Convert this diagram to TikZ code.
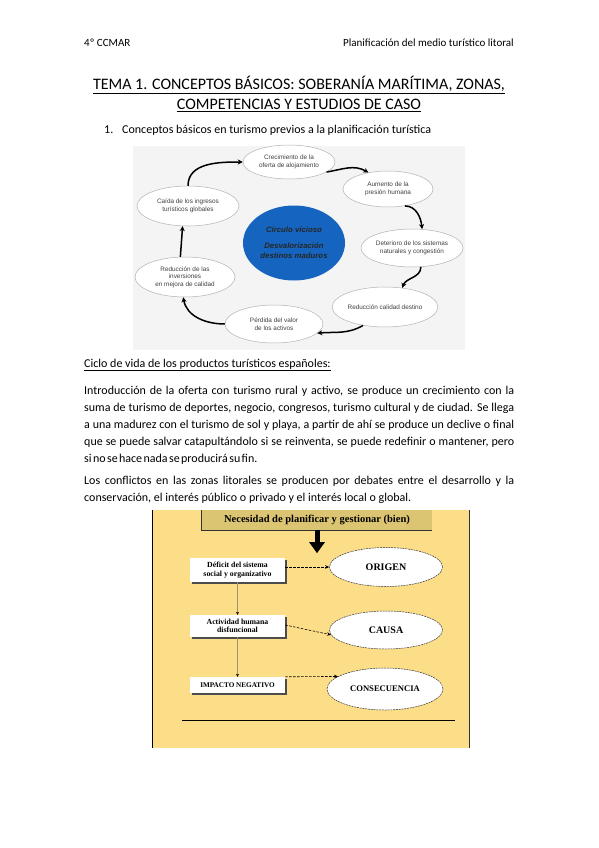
\documentclass[tikz,border=0pt]{standalone}
\usepackage{fontspec}
\setmainfont{Carlito}
\newfontfamily\arialf{Liberation Sans}
\newfontfamily\serf{Liberation Serif}
\usetikzlibrary{shapes.geometric,arrows.meta,shadows}
\definecolor{bggray}{RGB}{244,244,244}
\definecolor{cblue}{RGB}{21,101,192}
\definecolor{yel}{RGB}{253,222,136}
\definecolor{khaki}{RGB}{219,197,114}
\definecolor{tan}{RGB}{160,145,105}
\begin{document}
\begin{tikzpicture}[x=1pt,y=1pt,
  body/.style={inner sep=0pt, font=\fontsize{12}{14}\selectfont},
  cyc/.style={ellipse, draw=gray!60, fill=white, line width=0.5pt, inner sep=0pt, align=center,
    font=\arialf\fontsize{6.4}{7.6}\selectfont, text=black!75},
  carr/.style={line width=1.5pt, -{Stealth[length=5pt,width=5pt]}},
  shbox/.style={rectangle, fill=white, inner sep=0pt, align=center, minimum width=95pt,
    font=\serf\bfseries\fontsize{7.8}{8.4}\selectfont,
    drop shadow={shadow xshift=1.6pt, shadow yshift=-1.6pt, fill=black!70, opacity=1}},
  oval/.style={ellipse, fill=white, draw=black!80, line width=0.5pt, dash pattern=on 2pt off 0.8pt,
    inner sep=0pt, font=\serf\bfseries\fontsize{10}{12}\selectfont},
  darr/.style={dashed, line width=0.6pt, dash pattern=on 2.5pt off 1.5pt, -{Stealth[length=4pt,width=3.5pt]}},
  varr/.style={draw=tan, line width=0.6pt, -{Stealth[length=3pt,width=3pt,color=black]}}
]
\useasboundingbox (0,0) rectangle (599,-848);
\fill[white] (0,0) rectangle (599,-848);

% header
\node[body, anchor=base west, font=\fontsize{11}{12}\selectfont] (hl) at (84,-47) {4º CCMAR};
\node[body, anchor=base east, font=\fontsize{11}{12}\selectfont] (hr) at (514,-47) {Planificación del medio turístico litoral};

% title
\node[body, anchor=base, font=\fontsize{16}{18}\selectfont] (t1) at (299,-89.5) {\underline{TEMA 1. CONCEPTOS BÁSICOS: SOBERANÍA MARÍTIMA, ZONAS,}};
\node[body, anchor=base, font=\fontsize{16}{18}\selectfont] (t2) at (299,-109.5) {\underline{COMPETENCIAS Y ESTUDIOS DE CASO}};

\node[body, anchor=base west] (n1) at (104,-133) {1.};
\node[body, anchor=base west] (s1) at (122,-133) {Conceptos básicos en turismo previos a la planificación turística};

% cycle diagram
\fill[bggray] (133,-146) rectangle (465,-350);
\node[ellipse, fill=cblue, inner sep=0pt, minimum width=102pt, minimum height=75pt, align=center,
  font=\arialf\bfseries\itshape\fontsize{7.8}{10.5}\selectfont, text=black!85] (cc) at (294,-243)
  {Círculo vicioso\\[5pt]Desvalorización\\destinos maduros};
\node[cyc, minimum width=92pt, minimum height=34pt] (cre) at (289,-162) {Crecimiento de la\\oferta de alojamiento};
\node[cyc, minimum width=90pt, minimum height=36pt] (aum) at (388,-189) {Aumento de la\\presión humana};
\node[cyc, minimum width=100pt, minimum height=38pt] (det) at (412,-248) {Deterioro de los sistemas\\naturales y congestión};
\node[cyc, minimum width=100pt, minimum height=40pt] (red) at (385,-307) {Reducción calidad destino};
\node[cyc, minimum width=98pt, minimum height=38pt] (per) at (274,-324) {Pérdida del valor\\de los activos};
\node[cyc, minimum width=100pt, minimum height=40pt] (inv) at (185,-277) {Reducción de las\\inversiones\\en mejora de calidad};
\node[cyc, minimum width=102pt, minimum height=40pt] (cai) at (188,-206) {Caída de los ingresos\\turísticos globales};

\draw[carr] (cai.north) to[out=90,in=180] (cre.west);
\draw[carr] (cre.-15) to[out=10,in=150] (aum.140);
\draw[carr] (aum.-45) to[out=0,in=95] (det.62);
\draw[carr] (det.-65) to[out=-90,in=70] (red.48);
\draw[carr] (red.-140) to[out=-150,in=5] (per.-12);
\draw[carr] (per.west) to[out=180,in=-80] (inv.-95);
\draw[carr] (inv.103) -- (cai.-105);

% text
\node[body, anchor=base west] (cv) at (84,-367) {\underline{Ciclo de vida de los productos turísticos españoles:}};
\node[body, anchor=base west] (p1) at (84,-394) {\makebox[430pt][s]{Introducción de la oferta con turismo rural y activo, se produce un crecimiento con la}};
\node[body, anchor=base west] (p2) at (84,-411) {\makebox[430pt][s]{suma de turismo de deportes, negocio, congresos, turismo cultural y de ciudad. Se llega}};
\node[body, anchor=base west] (p3) at (84,-428) {\makebox[430pt][s]{a una madurez con el turismo de sol y playa, a partir de ahí se produce un declive o final}};
\node[body, anchor=base west] (p4) at (84,-445) {\makebox[430pt][s]{que se puede salvar catapultándolo si se reinventa, se puede redefinir o mantener, pero}};
\node[body, anchor=base west] (p5) at (84,-462) {\spaceskip=1.4pt si no se hace nada se producirá su fin.};
\node[body, anchor=base west] (q1) at (84,-484) {\makebox[430pt][s]{Los conflictos en las zonas litorales se producen por debates entre el desarrollo y la}};
\node[body, anchor=base west] (q2) at (84,-501) {conservación, el interés público o privado y el interés local o global.};

% bottom diagram
\fill[yel] (152,-510) rectangle (469,-748);
\draw[black, line width=1pt] (152,-510) -- (152,-748);
\draw[black!80, line width=1pt] (469,-510) -- (469,-748);

\node[rectangle, fill=khaki, inner sep=0pt, minimum width=230pt, minimum height=20pt,
  font=\serf\bfseries\fontsize{10.5}{12}\selectfont] (hb) at (317,-520) {Necesidad de planificar y gestionar (bien)};
\draw[black!80, line width=1pt] (hb.north west) -- (hb.south west) -- (hb.south east);
\draw[line width=5pt, -{Triangle[width=15pt,length=11pt]}] (hb.south) -- ++(0,-23) coordinate (ae);

\node[shbox, minimum height=24pt] (b1) at (237.5,-570) {Déficit del sistema\\social y organizativo};
\node[shbox, minimum height=22pt] (b2) at (237.5,-626) {Actividad humana\\disfuncional};
\node[shbox, minimum height=16pt, font=\serf\bfseries\fontsize{7.2}{8}\selectfont] (b3) at (237.5,-685) {IMPACTO NEGATIVO};

\node[oval, minimum width=113pt, minimum height=39pt] (e1) at (386,-567) {ORIGEN};
\node[oval, minimum width=113pt, minimum height=38pt] (e2) at (386,-630) {CAUSA};
\node[oval, minimum width=116pt, minimum height=42pt, font=\serf\bfseries\fontsize{8.6}{10}\selectfont] (e3) at (385,-689) {CONSECUENCIA};

\draw[darr] (b1.east) ++(0,3) coordinate (d1) (d1) -- (e1.west);
\draw[darr] (b2.east) ++(0,1) coordinate (d2) (d2) -- (e2.185);
\draw[darr] (b3.north east) -- (e3.165);

\draw[varr] (b1.south) -- (b2.north);
\draw[varr] (b2.south) -- (b3.north);

\coordinate (hl1) at (182,-720);
\coordinate (hl2) at (455,-720);
\draw[black, line width=0.8pt] (hl1) -- (hl2);
\end{tikzpicture}
\end{document}
